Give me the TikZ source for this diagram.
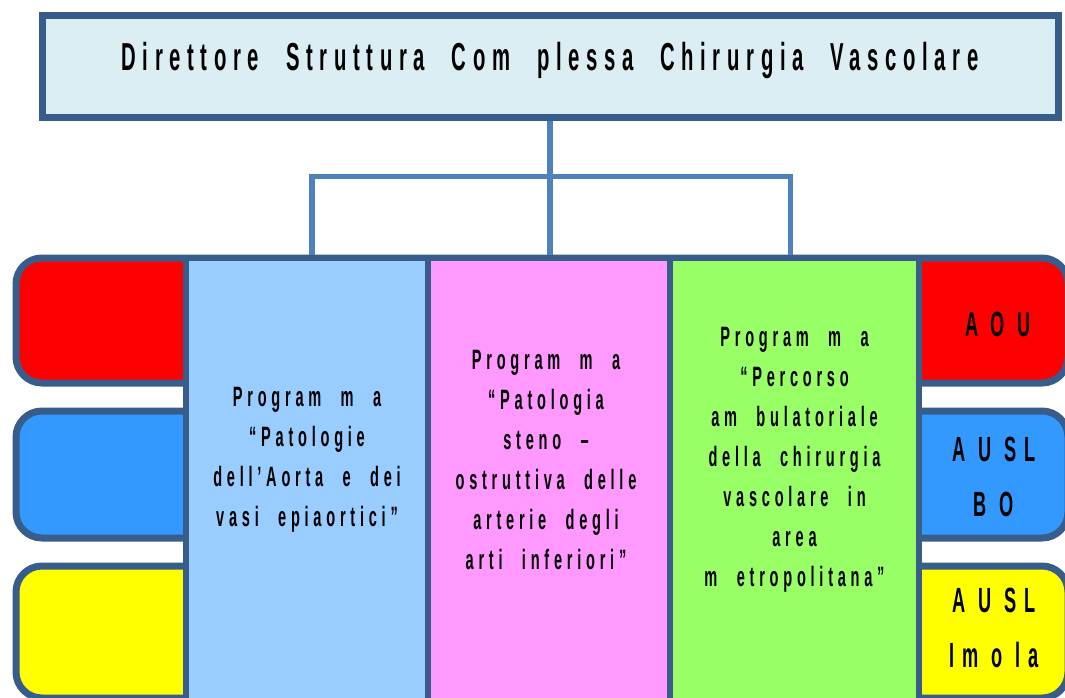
\documentclass[tikz,border=0pt]{standalone}
\usepackage{fontspec}
\newfontfamily\narrowsf{Liberation Sans}[FakeStretch=0.52,LetterSpace=17,WordSpace=2.2]
\newfontfamily\unitsf{Liberation Sans}[FakeStretch=0.52,LetterSpace=22,WordSpace=1]
\usetikzlibrary{positioning}
\definecolor{boxline}{RGB}{56,93,138}
\definecolor{linkblue}{RGB}{79,129,189}
\definecolor{titlefill}{RGB}{219,238,244}
\definecolor{aoured}{RGB}{255,0,0}
\definecolor{auslblue}{RGB}{51,153,255}
\definecolor{imolayellow}{RGB}{255,255,0}
\definecolor{aortafill}{RGB}{153,204,255}
\definecolor{stenofill}{RGB}{255,153,255}
\definecolor{ambufill}{RGB}{153,255,102}

\begin{document}
\begin{tikzpicture}[x=1pt, y=-1pt,
    title/.style={draw=boxline, line width=7pt, fill=titlefill, minimum width=1016pt, minimum height=102pt,
      inner sep=0pt, text height=28pt, text depth=20pt, font=\narrowsf\bfseries\fontsize{39}{40}\selectfont},
    rowbar/.style={draw=boxline, line width=7pt, rounded corners=26pt, minimum width=1052pt, inner sep=0pt},
    column/.style={draw=boxline, line width=6.5pt, minimum height=444pt, inner sep=0pt},
    progtext/.style={align=center, font=\narrowsf\bfseries\fontsize{28}{40}\selectfont},
    unit/.style={align=center, font=\unitsf\bfseries\fontsize{35}{55}\selectfont},
    link/.style={draw=linkblue, line width=5.5pt}
]
\useasboundingbox (0,0) rectangle (1065,698);
\clip (0,0) rectangle (1065,698);

% director
\node[title] (dir) at (550,67) {Direttore Struttura Com plessa Chirurgia Vascolare};

% rows of the three companies
\node[rowbar, fill=aoured, minimum height=125pt] (rowaou) at (542,320.5) {};
\node[rowbar, fill=auslblue, minimum height=127pt] (rowbo) at (542,474.5) {};
\node[rowbar, fill=imolayellow, minimum height=132pt] (rowimola) at (542,632) {};

% programmes
\node[column, fill=aortafill, minimum width=242pt] (p1) at (307,480) {};
\node[column, fill=stenofill, minimum width=242pt] (p2) at (549,480) {};
\node[column, fill=ambufill, minimum width=249pt] (p3) at (794.5,480) {};

\draw[link] (dir.south) -- ++(0,55) coordinate (fork);
\draw[link] ([xshift=5pt]p1.north) |- (fork) -| ([xshift=-4pt]p3.north);
\draw[link] (fork) -- (p2.north -| fork);

\node[progtext] (t1) at ([yshift=20pt]p1.center) {Program m a\\“Patologie\\dell’Aorta e dei\\vasi epiaortici”};
\node[progtext] (t2) at ([xshift=-3pt,yshift=20pt]p2.center) {Program m a\\“Patologia\\steno –\\ostruttiva delle\\arterie degli\\arti inferiori”};
\node[progtext] (t3) at ([yshift=20pt]p3.center) {Program m a\\“Percorso\\am bulatoriale\\della chirurgia\\vascolare in\\area\\m etropolitana”};

\node[unit] (aou) at (998,324) {A O U};
\node[unit] (bo) at (994,477) {A U SL\\B O};
\node[unit] (imola) at (994,628) {A U SL\\Im o la};
\end{tikzpicture}
\end{document}
